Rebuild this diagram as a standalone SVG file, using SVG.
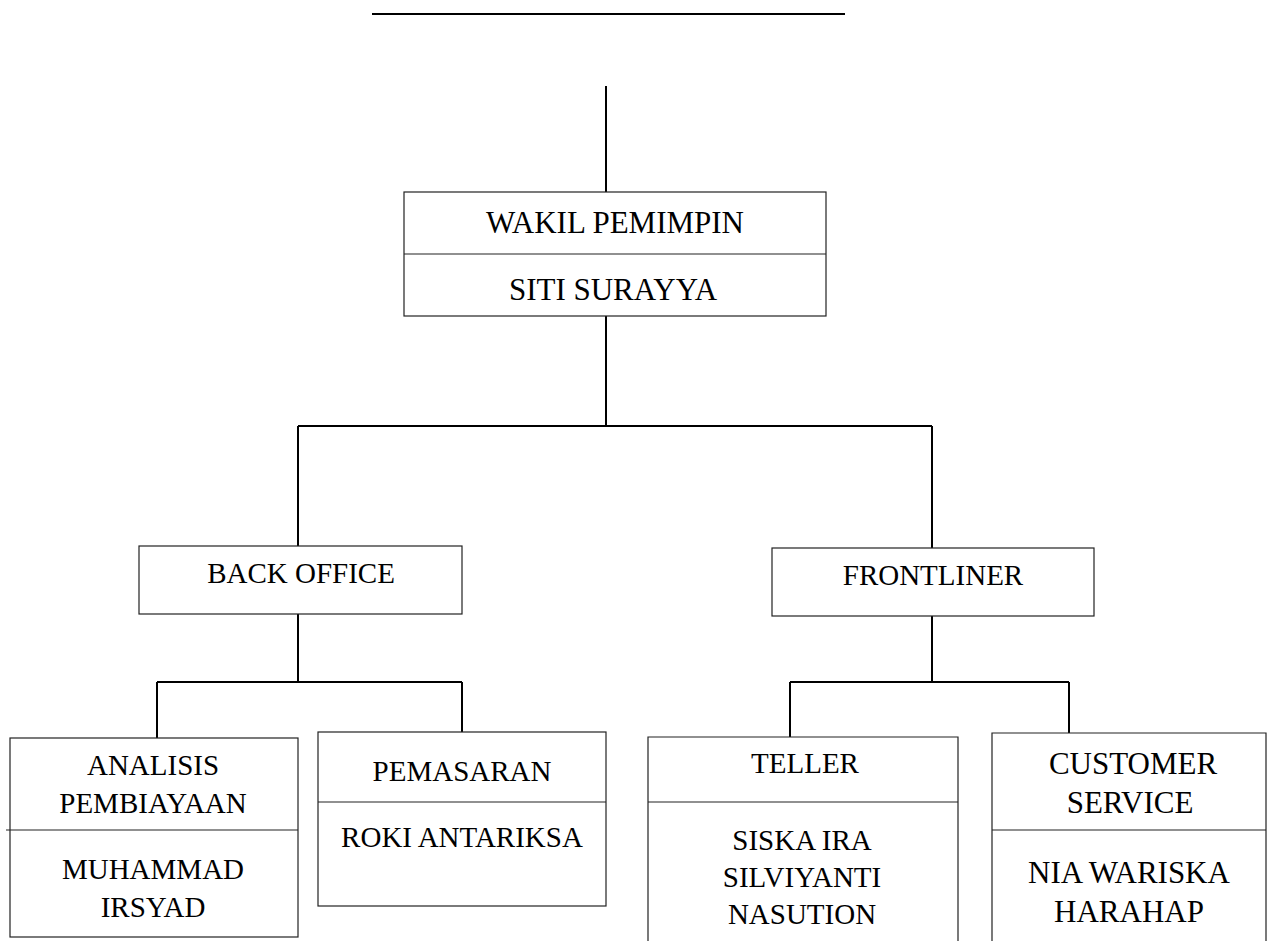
<svg xmlns="http://www.w3.org/2000/svg" width="1273" height="941" viewBox="0 0 1273 941">
<style>
.box{fill:#fff;stroke:#222;stroke-width:1.2}
.div{stroke:#222;stroke-width:1.2}
.con{stroke:#000;stroke-width:2;fill:none}
text{font-family:"Liberation Serif","Times New Roman",serif;font-size:29px;fill:#000;text-anchor:middle}
.big{font-size:31px}
</style>
<rect width="1273" height="941" fill="#fff"/>
<g id="connectors">
<line class="con" x1="372" y1="14" x2="845" y2="14"/>
<line class="con" x1="606" y1="86" x2="606" y2="192"/>
<line class="con" x1="606" y1="316" x2="606" y2="426"/>
<line class="con" x1="298" y1="426" x2="932" y2="426"/>
<line class="con" x1="298" y1="426" x2="298" y2="546"/>
<line class="con" x1="932" y1="426" x2="932" y2="548"/>
<line class="con" x1="298" y1="614" x2="298" y2="682"/>
<line class="con" x1="157" y1="682" x2="462" y2="682"/>
<line class="con" x1="157" y1="682" x2="157" y2="738"/>
<line class="con" x1="462" y1="682" x2="462" y2="732"/>
<line class="con" x1="932" y1="616" x2="932" y2="682"/>
<line class="con" x1="790" y1="682" x2="1069" y2="682"/>
<line class="con" x1="790" y1="682" x2="790" y2="737"/>
<line class="con" x1="1069" y1="682" x2="1069" y2="733"/>
</g>
<g id="wakil">
<rect class="box" x="404" y="192" width="422" height="124"/>
<line class="div" x1="404" y1="254" x2="826" y2="254"/>
<text class="big" x="615" y="233">WAKIL PEMIMPIN</text>
<text class="big" x="613" y="300">SITI SURAYYA</text>
</g>
<g id="backoffice">
<rect class="box" x="139" y="546" width="323" height="68"/>
<text x="301" y="583">BACK OFFICE</text>
</g>
<g id="frontliner">
<rect class="box" x="772" y="548" width="322" height="68"/>
<text x="933" y="585">FRONTLINER</text>
</g>
<g id="analisis">
<rect class="box" x="10" y="738" width="288" height="199"/>
<line class="div" x1="6" y1="830" x2="298" y2="830"/>
<text x="153" y="775">ANALISIS</text>
<text x="153" y="813">PEMBIAYAAN</text>
<text x="153" y="879">MUHAMMAD</text>
<text x="153" y="917">IRSYAD</text>
</g>
<g id="pemasaran">
<rect class="box" x="318" y="732" width="288" height="174"/>
<line class="div" x1="318" y1="802" x2="606" y2="802"/>
<text x="462" y="781">PEMASARAN</text>
<text x="462" y="847">ROKI ANTARIKSA</text>
</g>
<g id="teller">
<path class="box" d="M648,945 V737 H958 V945"/>
<line class="div" x1="648" y1="802" x2="958" y2="802"/>
<text x="805" y="773">TELLER</text>
<text x="802" y="850">SISKA IRA</text>
<text x="802" y="887">SILVIYANTI</text>
<text x="802" y="924">NASUTION</text>
</g>
<g id="customer">
<path class="box" d="M992,945 V733 H1266 V945"/>
<line class="div" x1="992" y1="830" x2="1266" y2="830"/>
<text class="big" x="1133" y="774">CUSTOMER</text>
<text class="big" x="1130" y="813">SERVICE</text>
<text class="big" x="1129" y="883">NIA WARISKA</text>
<text class="big" x="1129" y="922">HARAHAP</text>
</g>
</svg>
